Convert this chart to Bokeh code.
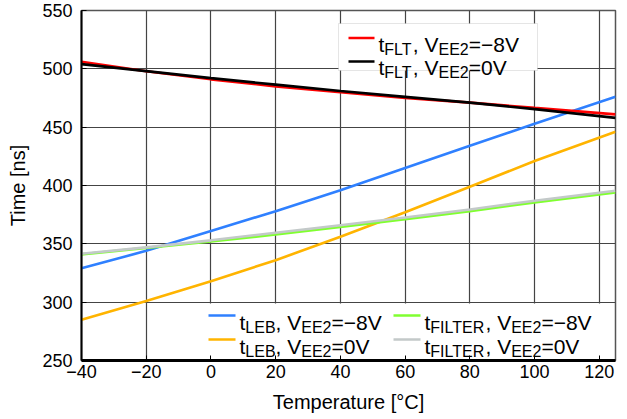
from bokeh.plotting import figure
from bokeh.models import Range1d, FixedTicker, BoxAnnotation, Label
from bokeh.embed import file_html
from bokeh.resources import INLINE

# ---- data ----
temperature = [-40, -20, 0, 20, 40, 60, 80, 100, 125]
t_flt_m8 = [506, 498, 491, 485, 480, 475, 471, 466.5, 461]
t_flt_0 = [504, 498, 492, 486.5, 481, 476, 471, 465.5, 458]
t_leb_m8 = [329, 344, 361, 378, 396, 415, 434, 453, 476]
t_leb_0 = [285, 301, 318, 336, 356, 377, 399, 421, 446]
t_filter_m8 = [341, 346.5, 352, 358, 364.5, 371, 378, 385.5, 394]
t_filter_0 = [341.5, 347, 353, 359.5, 366, 372.5, 379.5, 387, 395.5]
x_ticks = [-40, -20, 0, 20, 40, 60, 80, 100, 120]
y_ticks = [250, 300, 350, 400, 450, 500, 550]

FONT = "Liberation Sans"

p = figure(width=627, height=419, x_range=Range1d(-40, 125), y_range=Range1d(250, 550),
           output_backend="svg", toolbar_location=None,
           min_border_left=81, min_border_right=12, min_border_top=10, min_border_bottom=59)
p.background_fill_color = "white"
p.border_fill_color = "white"
p.outline_line_color = "#555555"
p.outline_line_width = 1.5

# axes
p.xaxis.ticker = FixedTicker(ticks=x_ticks)
p.yaxis.ticker = FixedTicker(ticks=y_ticks)
p.xaxis.major_label_overrides = {-40: "\u221240", -20: "\u221220"}
for ax in (p.xaxis[0], p.yaxis[0]):
    ax.major_tick_in = 5
    ax.major_tick_out = 0
    ax.minor_tick_line_color = None
    ax.axis_line_color = "black"
    ax.major_tick_line_color = "black"
    ax.major_label_text_font = FONT
    ax.major_label_text_font_size = "18px"
    ax.major_label_text_color = "black"
    ax.axis_label_text_font = FONT
    ax.axis_label_text_font_size = "20px"
    ax.axis_label_text_font_style = "normal"
    ax.axis_label_text_color = "black"
p.xaxis.axis_line_width = 3
p.yaxis.axis_line_width = 2
p.xaxis.axis_label = "Temperature [\u00b0C]"
p.yaxis.axis_label = "Time [ns]"
p.xaxis.major_label_standoff = 4
p.xaxis.axis_label_standoff = 10
p.yaxis.major_label_standoff = 9
p.yaxis.axis_label_standoff = 10

p.xgrid.ticker = FixedTicker(ticks=x_ticks)
p.ygrid.ticker = FixedTicker(ticks=y_ticks)
p.grid.grid_line_color = "#444444"
p.grid.grid_line_width = 1.2

# ---- legend geometry helpers (canvas px -> data) ----
FL, FR, FT, FB = 81, 615, 10, 360
def dx(px):
    return -40 + (px - FL) * 165.0 / (FR - FL)
def dy(py):
    return 550 - (py - FT) * 300.0 / (FB - FT)

# legend boxes (under axes ticks, over grid)
top_box = BoxAnnotation(left=dx(338), right=dx(537), top=dy(23), bottom=dy(70),
                        fill_color="white", fill_alpha=1.0, line_color="#aaaaaa",
                        line_width=1, level="underlay")
bot_box = BoxAnnotation(left=dx(202), right=dx(603), top=dy(303), bottom=250,
                        fill_color="white", fill_alpha=1.0, line_color=None,
                        level="underlay")
p.add_layout(top_box)
p.add_layout(bot_box)

# ---- data lines ----
series = [
    (t_leb_m8, "#2f80ff"),
    (t_leb_0, "#ffb400"),
    (t_filter_m8, "#80ff30"),
    (t_filter_0, "#c3c9c9"),
    (t_flt_m8, "#ff0000"),
    (t_flt_0, "#000000"),
]
for vals, col in series:
    p.line(temperature, vals, line_color=col, line_width=2.6)

# ---- custom legend with subscripts ----
W = {"t": 278, "F": 611, "L": 556, "T": 611, ",": 278, " ": 278, "V": 667, "E": 667,
     "2": 556, "=": 584, "\u2212": 584, "8": 556, "0": 556, "I": 278, "R": 722, "B": 667}
MAIN, SUB = 21, 16

def text_width(s, size):
    return sum(W.get(c, 556) for c in s) * size / 1000.0

def legend_entry(x_line0, x_line1, x_text, y_line, y_base, color, sub1, value):
    p.segment(x0=[dx(x_line0)], y0=[dy(y_line)], x1=[dx(x_line1)], y1=[dy(y_line)],
              line_color=color, line_width=2.6)
    pieces = [("t", MAIN), (sub1, SUB), (", V", MAIN), ("EE2", SUB), ("=" + value, MAIN)]
    off = 0.0
    for s, size in pieces:
        yb = y_base + (4.5 if size == SUB else 0)
        p.add_layout(Label(x=dx(x_text), y=dy(yb), x_offset=off, text=s,
                           text_font=FONT, text_font_size=f"{size}px",
                           text_baseline="alphabetic", text_align="left",
                           text_color="black"))
        off += text_width(s, size)

legend_entry(348, 374, 378, 37.5, 44, "#ff0000", "FLT", "\u22128V")
legend_entry(348, 374, 378, 61, 67, "#000000", "FLT", "0V")
legend_entry(208, 235, 239, 315, 322, "#2f80ff", "LEB", "\u22128V")
legend_entry(208, 235, 239, 339, 346, "#ffb400", "LEB", "0V")
legend_entry(393, 420, 424, 315, 322, "#80ff30", "FILTER", "\u22128V")
legend_entry(393, 420, 424, 339, 346, "#c3c9c9", "FILTER", "0V")

open("out.html", "w").write(file_html(p, INLINE))
